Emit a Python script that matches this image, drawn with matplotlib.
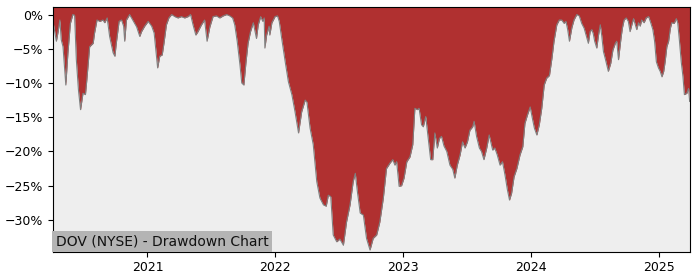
import numpy as np
import pandas as pd
import matplotlib
matplotlib.use('Agg')
import matplotlib.pyplot as plt
import matplotlib.dates as mdates
import matplotlib.ticker as ticker

# drawdown readings (date, % below running peak)
dates = [
    '2020-04-07', '2020-04-16', '2020-04-21', '2020-04-26', '2020-04-30', '2020-05-05',
    '2020-05-13', '2020-05-19', '2020-05-26', '2020-06-02', '2020-06-07', '2020-06-12',
    '2020-06-18', '2020-06-24', '2020-07-01', '2020-07-08', '2020-07-12', '2020-07-20',
    '2020-07-30', '2020-08-03', '2020-08-10', '2020-08-18', '2020-08-27', '2020-09-01',
    '2020-09-08', '2020-09-15', '2020-09-25', '2020-09-30', '2020-10-04', '2020-10-12',
    '2020-10-19', '2020-10-25', '2020-10-28', '2020-11-02', '2020-11-11', '2020-11-20',
    '2020-12-01', '2020-12-10', '2020-12-15', '2020-12-24',
    '2021-01-03', '2021-01-13', '2021-01-20', '2021-01-25', '2021-01-30', '2021-02-05',
    '2021-02-12', '2021-02-17', '2021-02-24', '2021-03-03', '2021-03-11', '2021-03-20',
    '2021-03-29', '2021-04-08', '2021-04-17', '2021-04-27', '2021-05-04', '2021-05-11',
    '2021-05-19', '2021-05-25', '2021-06-04', '2021-06-13', '2021-06-20', '2021-06-28',
    '2021-07-07', '2021-07-17', '2021-07-26', '2021-08-05', '2021-08-15', '2021-08-24',
    '2021-09-01', '2021-09-07', '2021-09-14', '2021-09-22', '2021-09-27', '2021-10-03',
    '2021-10-09', '2021-10-15', '2021-10-22', '2021-10-30', '2021-11-04', '2021-11-08',
    '2021-11-13', '2021-11-20', '2021-11-26', '2021-11-30', '2021-12-02', '2021-12-07',
    '2021-12-14', '2021-12-16', '2021-12-22', '2021-12-31',
    '2022-01-07', '2022-01-12', '2022-01-19', '2022-01-29', '2022-02-07', '2022-02-17',
    '2022-02-26', '2022-03-08', '2022-03-17', '2022-03-27', '2022-04-01', '2022-04-10',
    '2022-04-19', '2022-04-29', '2022-05-08', '2022-05-18', '2022-05-26', '2022-06-01',
    '2022-06-08', '2022-06-15', '2022-06-25', '2022-07-04', '2022-07-14', '2022-07-23',
    '2022-08-02', '2022-08-11', '2022-08-17', '2022-08-23', '2022-08-31', '2022-09-09',
    '2022-09-18', '2022-09-28', '2022-10-07', '2022-10-17', '2022-10-26', '2022-11-05',
    '2022-11-14', '2022-11-24', '2022-12-02', '2022-12-08', '2022-12-13', '2022-12-20',
    '2022-12-27',
    '2023-01-03', '2023-01-11', '2023-01-20', '2023-01-28', '2023-02-03', '2023-02-10',
    '2023-02-15', '2023-02-22', '2023-02-27', '2023-03-06', '2023-03-13', '2023-03-20',
    '2023-03-26', '2023-04-01', '2023-04-08', '2023-04-14', '2023-04-20', '2023-04-27',
    '2023-05-05', '2023-05-14', '2023-05-22', '2023-05-28', '2023-06-04', '2023-06-12',
    '2023-06-19', '2023-06-26', '2023-07-03', '2023-07-10', '2023-07-18', '2023-07-22',
    '2023-07-29', '2023-08-06', '2023-08-12', '2023-08-19', '2023-08-27', '2023-09-03',
    '2023-09-13', '2023-09-19', '2023-09-26', '2023-10-04', '2023-10-11', '2023-10-18',
    '2023-10-25', '2023-10-31', '2023-11-06', '2023-11-13', '2023-11-21', '2023-11-30',
    '2023-12-08', '2023-12-14', '2023-12-21', '2023-12-29',
    '2024-01-04', '2024-01-10', '2024-01-17', '2024-01-24', '2024-01-31', '2024-02-07',
    '2024-02-14', '2024-02-22', '2024-02-29', '2024-03-06', '2024-03-14', '2024-03-21',
    '2024-03-28', '2024-04-04', '2024-04-09', '2024-04-14', '2024-04-19', '2024-04-26',
    '2024-05-02', '2024-05-10', '2024-05-17', '2024-05-24', '2024-05-31', '2024-06-08',
    '2024-06-12', '2024-06-17', '2024-06-22', '2024-06-26', '2024-06-30', '2024-07-06',
    '2024-07-11', '2024-07-16', '2024-07-20', '2024-07-25', '2024-07-31', '2024-08-08',
    '2024-08-15', '2024-08-21', '2024-08-28', '2024-09-01', '2024-09-06', '2024-09-13',
    '2024-09-17', '2024-09-22', '2024-09-28', '2024-10-04', '2024-10-09', '2024-10-14',
    '2024-10-19', '2024-10-24', '2024-10-28', '2024-11-02', '2024-11-07', '2024-11-11',
    '2024-11-18', '2024-11-24', '2024-12-01', '2024-12-07', '2024-12-13', '2024-12-18',
    '2024-12-23', '2024-12-29',
    '2025-01-03', '2025-01-08', '2025-01-13', '2025-01-17', '2025-01-22', '2025-01-27',
    '2025-02-01', '2025-02-05', '2025-02-12', '2025-02-18', '2025-02-22', '2025-02-27',
    '2025-03-04', '2025-03-09', '2025-03-13', '2025-03-20', '2025-03-25', '2025-03-28',
]

drawdown = [
    -1.2, -3.9, -2.5, -0.8, -3.7, -4.7,
    -10.3, -5.6, -1.3, 0.0, -0.1, -6.6,
    -11.0, -13.9, -11.5, -11.7, -9.5, -4.7,
    -4.2, -2.7, -0.8, -1.0, -0.8, -1.2,
    -0.5, -3.2, -5.6, -6.1, -4.2, -1.0,
    -0.8, -1.7, -3.9, -0.8, 0.0, -0.8,
    -1.8, -3.2, -2.5, -1.7,
    -1.0, -1.7, -2.7, -5.2, -7.8, -6.1,
    -5.9, -4.2, -1.5, -0.5, 0.0, -0.3,
    -0.5, -0.3, -0.5, -0.3, 0.0, -1.5,
    -3.0, -2.5, -1.5, -0.8, -3.9, -1.8,
    -0.3, -0.2, -0.5, -0.2, 0.0, -0.2,
    -0.5, -1.5, -3.9, -7.4, -10.0, -10.3,
    -7.0, -4.2, -2.5, -1.2, -2.5, -3.5,
    -1.5, -0.3, -1.0, -0.5, -4.9, -3.0,
    -1.7, -3.0, -1.2, -0.3,
    -0.2, -1.0, -3.5, -6.9, -9.8, -11.7,
    -14.2, -17.3, -14.2, -12.5, -12.8, -16.6,
    -19.0, -24.4, -26.8, -27.8, -28.0, -26.4,
    -26.6, -32.2, -33.2, -32.8, -33.7, -30.3,
    -27.8, -24.4, -23.2, -25.9, -29.0, -29.3,
    -32.7, -34.4, -32.7, -32.2, -30.3, -26.8,
    -22.5, -21.7, -21.2, -22.0, -21.5, -25.1,
    -25.0,
    -23.9, -21.5, -20.8, -19.0, -13.7, -13.9,
    -13.7, -16.1, -16.4, -14.9, -18.1, -21.2,
    -21.2, -17.3, -19.5, -18.1, -17.8, -19.2,
    -20.0, -22.0, -22.6, -23.9, -22.0, -20.5,
    -18.6, -19.5, -18.6, -16.9, -16.4, -15.6,
    -17.8, -19.5, -20.0, -21.2, -19.5, -17.6,
    -19.8, -19.5, -20.5, -22.0, -21.5, -23.4,
    -25.6, -27.1, -26.1, -23.7, -22.5, -20.5,
    -19.3, -15.9, -14.7, -13.5,
    -15.1, -16.6, -17.6, -16.1, -13.7, -10.3,
    -9.3, -8.9, -6.4, -3.9, -1.5, -0.8,
    -0.8, -1.3, -1.0, -2.2, -3.9, -1.9,
    -0.8, 0.0, -0.2, -1.3, -2.0, -3.5,
    -4.2, -2.5, -2.2, -2.8, -3.9, -4.9,
    -3.0, -1.5, -3.0, -5.4, -6.6, -8.3,
    -7.1, -5.2, -4.2, -3.9, -6.6, -3.5,
    -2.0, -0.8, -0.5, -1.0, -2.5, -1.5,
    -0.6, -1.5, -2.2, -1.2, -1.7, -0.8,
    -1.2, -0.5, -0.3, -1.2, -2.2, -3.9,
    -6.9, -7.8,
    -8.3, -9.1, -8.3, -6.9, -4.7, -3.9,
    -2.0, -1.2, -1.3, -0.6, -1.2, -3.9,
    -6.9, -9.1, -11.7, -11.5, -10.8, -12.7,
]

title = 'DOV (NYSE) - Drawdown Chart'
y_ticks = [0, -5, -10, -15, -20, -25, -30]

x = pd.to_datetime(dates)
dd = np.array(drawdown)
y_top = 1.1

fig = plt.figure(figsize=(7, 2.8), dpi=100)
ax = fig.add_axes([0.076, 0.101, 0.9097, 0.874])
ax.set_facecolor('#eeeeee')

# red area runs from the curve up to the top of the plot
ax.fill_between(x, dd, y_top, color='#b03030', linewidth=0)
ax.plot(x, dd, color='#808080', linewidth=0.8)

ax.set_xlim(pd.Timestamp('2020-04-07'), pd.Timestamp('2025-03-29'))
ax.set_ylim(-34.65, y_top)

ax.set_yticks(y_ticks)
ax.yaxis.set_major_formatter(
    ticker.FuncFormatter(lambda v, _: f'{v:.0f}%'.replace('-', '\u2212')))
ax.xaxis.set_major_locator(mdates.YearLocator())
ax.xaxis.set_major_formatter(mdates.DateFormatter('%Y'))
ax.tick_params(labelsize=9)

ax.text(0.004, 0.012, title, transform=ax.transAxes, ha='left', va='bottom',
        fontsize=10, color='#111111',
        bbox=dict(facecolor='#b4b4b4', edgecolor='none', pad=2.5))

fig.savefig('out.png', dpi=100)
